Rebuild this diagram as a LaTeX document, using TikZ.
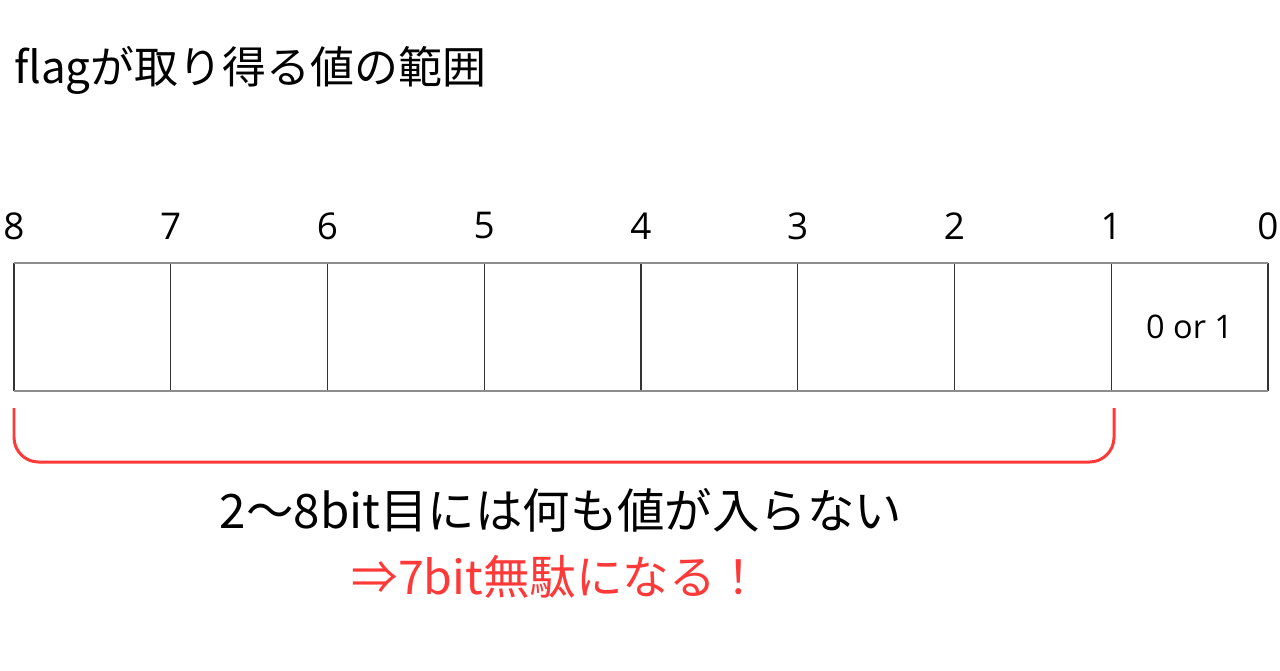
\documentclass[tikz,border=0pt]{standalone}
\usepackage{fontspec}
\setmainfont{Noto Sans CJK JP}
\newfontfamily\digitfont{Open Sans}
\definecolor{alertred}{HTML}{FF3838}
\newcommand*{\fs}[1]{\fontsize{#1}{#1}\selectfont}
\begin{document}
\begin{tikzpicture}[x=0.02cm, y=-0.02cm, every node/.style={inner sep=0pt}]
		\useasboundingbox(0, 0)rectangle(1280, 670);
		\node[anchor=west, font=\fs{25}](title)at(14, 70){flagが取り得る値の範囲};
		\foreach \i in {0,...,8}{
			\coordinate(t\i)at({1268-156.75*\i}, 263);
			\coordinate(u\i)at({1268-156.75*\i}, 391);
			\draw[black!80, line width=0.6pt](t\i)--(u\i);
			\node[font=\digitfont\fs{21}](n\i)at({1268-156.75*\i}, 226){\i};
		}
		\draw[black!45, line width=0.6pt](t8)--(t0)(u8)--(u0);
		\node[font=\digitfont\fs{18.5}](v0)at(1189.6, 327){0 or 1};
		\coordinate(b8)at(14, 408);
		\coordinate(b1)at(1114, 408);
		\draw[alertred, line width=1.7pt, rounded corners=14pt](b8)--(14, 462)-|(b1);
		\node[font=\fs{27}](note)at(561, 510){2〜8bit目には何も値が入らない};
		\node[alertred, font=\fs{26.5}](waste)at(557, 577){⇒7bit無駄になる！};
	\end{tikzpicture}
\end{document}
